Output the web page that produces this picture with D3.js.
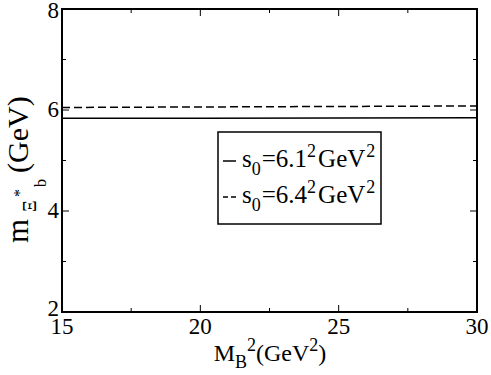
<!DOCTYPE html>
<html>
<head>
<meta charset="utf-8">
<script src="https://cdn.jsdelivr.net/npm/d3@7"></script>
<style>
  body { margin: 0; background: #fff; }
  svg text { font-family: 'Liberation Serif', 'Times New Roman', serif; fill: #000; }
</style>
</head>
<body>
<svg id="chart" width="491" height="375"></svg>
<script>
// Borel mass squared (GeV^2)
var msq = [15, 20, 25, 30]
// mass for s0 = 6.1^2 GeV^2
var massLow = [5.835, 5.838, 5.842, 5.846]
// mass for s0 = 6.4^2 GeV^2
var massHigh = [6.05, 6.06, 6.07, 6.08]

var xTicks = [15, 20, 25, 30]
var yTicks = [2, 4, 6, 8]
var xMinor = [17.5, 22.5, 27.5]
var yMinor = [3, 5, 7]

var margin = { top: 9, right: 14, bottom: 63, left: 62 }
var width = 491, height = 375

var svg = d3.select("#chart")

var xScale = d3.scaleLinear()
    .domain([15, 30])
    .range([margin.left, width - margin.right])

var yScale = d3.scaleLinear()
    .domain([2, 8])
    .range([height - margin.bottom, margin.top])

var x0 = xScale.range()[0], x1 = xScale.range()[1]
var y0 = yScale.range()[0], y1 = yScale.range()[1]

// inward ticks on all four sides
var ticks = svg.append("g").attr("stroke", "#000").attr("stroke-width", 1)

function tickSet(vals, len) {
    vals.forEach(function(v) {
        ticks.append("line").attr("x1", xScale(v)).attr("x2", xScale(v))
             .attr("y1", y0).attr("y2", y0 - len)
        ticks.append("line").attr("x1", xScale(v)).attr("x2", xScale(v))
             .attr("y1", y1).attr("y2", y1 + len)
    })
}
function tickSetY(vals, len) {
    vals.forEach(function(v) {
        ticks.append("line").attr("y1", yScale(v)).attr("y2", yScale(v))
             .attr("x1", x0).attr("x2", x0 + len)
        ticks.append("line").attr("y1", yScale(v)).attr("y2", yScale(v))
             .attr("x1", x1).attr("x2", x1 - len)
    })
}
tickSet(xTicks, 7)
tickSet(xMinor, 4)
tickSetY(yTicks, 7)
tickSetY(yMinor, 4)

// tick labels
svg.append("g").selectAll("text")
    .data(xTicks)
    .join("text")
    .attr("x", d => xScale(d))
    .attr("y", y0 + 22)
    .attr("text-anchor", "middle")
    .style("font-size", "23px")
    .text(d => d)

svg.append("g").selectAll("text")
    .data(yTicks)
    .join("text")
    .attr("x", x0 - 3)
    .attr("y", d => yScale(d) + (d == 8 ? 9 : d == 2 ? 4 : 7))
    .attr("text-anchor", "end")
    .style("font-size", "23px")
    .text(d => d)

// curves
var lineGen = d3.line()
    .x(d => xScale(d[0]))
    .y(d => yScale(d[1]))

svg.append("path")
    .attr("d", lineGen(d3.zip(msq, massLow)))
    .attr("fill", "none")
    .attr("stroke", "#000")
    .attr("stroke-width", 1.5)

svg.append("path")
    .attr("d", lineGen(d3.zip(msq, massHigh)))
    .attr("fill", "none")
    .attr("stroke", "#000")
    .attr("stroke-width", 1.5)
    .attr("stroke-dasharray", "8,4")

// frame
svg.append("rect")
    .attr("x", x0).attr("y", y1)
    .attr("width", x1 - x0).attr("height", y0 - y1)
    .attr("fill", "none")
    .attr("stroke", "#000")
    .attr("stroke-width", 2)

// legend
var legend = svg.append("g")
legend.append("rect")
    .attr("x", 218).attr("y", 132)
    .attr("width", 163).attr("height", 92)
    .attr("fill", "#fff")
    .attr("stroke", "#000")
    .attr("stroke-width", 1.5)

var entries = [
    { val: "6.1", dash: null, y: 161 },
    { val: "6.4", dash: "5,3", y: 197 }
]
entries.forEach(function(e) {
    legend.append("line")
        .attr("x1", 223).attr("x2", 236)
        .attr("y1", e.y).attr("y2", e.y)
        .attr("stroke", "#000").attr("stroke-width", 1.5)
        .attr("stroke-dasharray", e.dash)
    var t = legend.append("text")
        .attr("x", 242).attr("y", e.y + 6)
        .style("font-size", "25px")
    t.append("tspan").text("s")
    t.append("tspan").attr("dy", 8).style("font-size", "18px").text("0")
    t.append("tspan").attr("dy", -8).attr("dx", 1).text("=" + e.val)
    t.append("tspan").attr("dy", -10).style("font-size", "18px").text("2")
    t.append("tspan").attr("dy", 10).attr("dx", 2).text("GeV")
    t.append("tspan").attr("dy", -10).attr("dx", 1).style("font-size", "18px").text("2")
})

// x axis title
var xt = svg.append("text")
    .attr("x", 270).attr("y", 361)
    .attr("text-anchor", "middle")
    .style("font-size", "24px")
xt.append("tspan").text("M")
xt.append("tspan").attr("dy", 7).style("font-size", "18px").text("B")
xt.append("tspan").attr("dy", -17).style("font-size", "18px").text("2")
xt.append("tspan").attr("dy", 10).text("(GeV")
xt.append("tspan").attr("dy", -10).style("font-size", "18px").text("2")
xt.append("tspan").attr("dy", 10).text(")")

// y axis title
var yt = svg.append("text")
    .attr("transform", "translate(28,243) rotate(-90)")
yt.append("tspan").attr("x", 0).attr("y", 0).style("font-size", "31px").text("m")
yt.append("tspan").attr("x", 31).attr("y", 8).style("font-size", "18px").text("Ξ")
yt.append("tspan").attr("x", 46).attr("y", -3).style("font-size", "16px").text("*")
yt.append("tspan").attr("x", 56).attr("y", 18).style("font-size", "16px").text("b")
yt.append("tspan").attr("x", 70).attr("y", 0).style("font-size", "30px").text("(GeV)")
</script>
</body>
</html>
